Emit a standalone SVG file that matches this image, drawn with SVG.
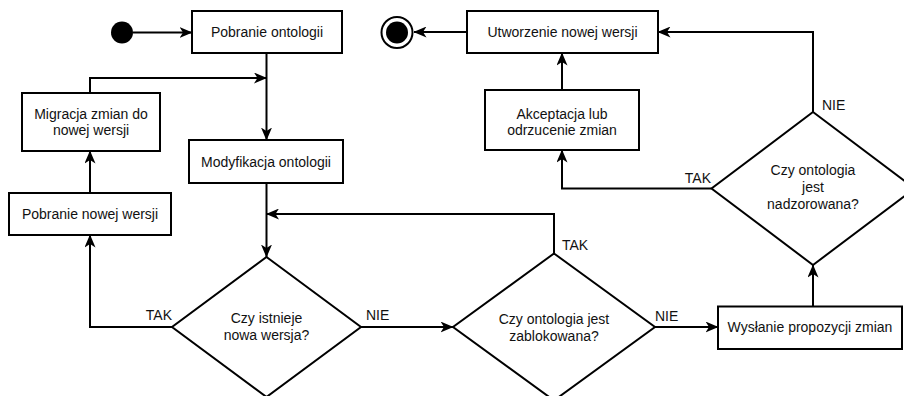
<svg xmlns="http://www.w3.org/2000/svg" width="904" height="396" viewBox="0 0 904 396">
<style>
.box{fill:#fff;stroke:#000;stroke-width:2}
.dia{fill:#fff;stroke:#000;stroke-width:2}
.con{fill:none;stroke:#000;stroke-width:2}
text{font-family:"Liberation Sans",Arial,sans-serif;font-size:14px;fill:#111}
.c{text-anchor:middle}
.e{text-anchor:end}
</style>
<defs>
<marker id="arr" viewBox="0 0 13 11" refX="12.5" refY="5.5" markerWidth="13" markerHeight="11" markerUnits="userSpaceOnUse" orient="auto">
<path d="M0,0 L13,5.5 L0,11 L3.5,5.5 Z" fill="#000"/>
</marker>
</defs>
<rect width="904" height="396" fill="#fff"/>
<g id="connectors">
<path class="con" d="M133,32.5 H192" marker-end="url(#arr)"/>
<path class="con" d="M266.5,53 V140" marker-end="url(#arr)"/>
<path class="con" d="M90,93 V78 H266.5" marker-end="url(#arr)"/>
<path class="con" d="M90,193 V151" marker-end="url(#arr)"/>
<path class="con" d="M266.5,183 V257" marker-end="url(#arr)"/>
<path class="con" d="M172,327 H90 V235" marker-end="url(#arr)"/>
<path class="con" d="M361,327 H453" marker-end="url(#arr)"/>
<path class="con" d="M554,253.5 V214 H266.5" marker-end="url(#arr)"/>
<path class="con" d="M655,327 H718" marker-end="url(#arr)"/>
<path class="con" d="M813,306.5 V265" marker-end="url(#arr)"/>
<path class="con" d="M813,112 V32 H658" marker-end="url(#arr)"/>
<path class="con" d="M711.5,188.5 H562 V150" marker-end="url(#arr)"/>
<path class="con" d="M562,90 V53" marker-end="url(#arr)"/>
<path class="con" d="M467,32 H414" marker-end="url(#arr)"/>
<text class="e" x="172" y="320">TAK</text>
<text x="366" y="320">NIE</text>
<text x="562" y="250">TAK</text>
<text x="655" y="321">NIE</text>
<text x="822" y="110">NIE</text>
<text class="e" x="711" y="183">TAK</text>
</g>
<g id="start"><circle cx="122" cy="32.5" r="11" fill="#000"/></g>
<g id="end"><circle cx="397" cy="32.5" r="15.5" fill="#fff" stroke="#000" stroke-width="2"/><circle cx="397" cy="32.5" r="11" fill="#000"/></g>
<g id="pobranie-ontologii"><rect class="box" x="192" y="11" width="150" height="42"/><text class="c" x="267" y="37">Pobranie ontologii</text></g>
<g id="migracja"><rect class="box" x="22" y="93" width="138" height="58"/><text class="c" x="91" y="119">Migracja zmian do</text><text class="c" x="91" y="135">nowej wersji</text></g>
<g id="modyfikacja"><rect class="box" x="189" y="140" width="154" height="43"/><text class="c" x="266" y="166.5">Modyfikacja ontologii</text></g>
<g id="pobranie-nowej"><rect class="box" x="9" y="193" width="162" height="42"/><text class="c" x="90" y="219">Pobranie nowej wersji</text></g>
<g id="utworzenie"><rect class="box" x="467" y="11" width="191" height="42"/><text class="c" x="562.5" y="37">Utworzenie nowej wersji</text></g>
<g id="akceptacja"><rect class="box" x="485" y="90" width="154" height="60"/><text class="c" x="562" y="118.5">Akceptacja lub</text><text class="c" x="562" y="134.5">odrzucenie zmian</text></g>
<g id="wyslanie"><rect class="box" x="718" y="306.5" width="184" height="42.5"/><text class="c" x="810" y="332">Wysłanie propozycji zmian</text></g>
<g id="czy-istnieje"><polygon class="dia" points="266.5,257 361,327 266.5,397 172,327"/><text class="c" x="266.5" y="323">Czy istnieje</text><text class="c" x="266.5" y="340">nowa wersja?</text></g>
<g id="czy-zablokowana"><polygon class="dia" points="554,253.5 655,327 554,400.5 453,327"/><text class="c" x="554" y="323.5">Czy ontologia jest</text><text class="c" x="554" y="340.5">zablokowana?</text></g>
<g id="czy-nadzorowana"><polygon class="dia" points="813,112 914.5,188.5 813,265 711.5,188.5"/><text class="c" x="813" y="175">Czy ontologia</text><text class="c" x="813" y="192">jest</text><text class="c" x="813" y="209">nadzorowana?</text></g>
</svg>
